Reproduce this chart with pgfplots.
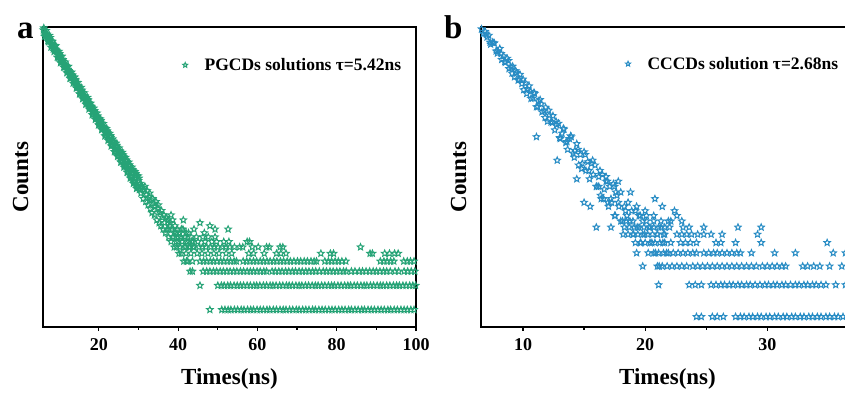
\documentclass[border=0pt]{standalone}
\usepackage{fontspec}
\setmainfont{Liberation Serif}
\usepackage{pgfplots}
\pgfplotsset{compat=1.18}
\definecolor{cgreen}{RGB}{38,163,118}
\definecolor{cblue}{RGB}{40,140,196}
\pgfdeclareplotmark{ostar}{%
  \pgfpathmoveto{\pgfpointpolar{90}{\pgfplotmarksize}}%
  \pgfpathlineto{\pgfpointpolar{126}{0.45\pgfplotmarksize}}%
  \pgfpathlineto{\pgfpointpolar{162}{\pgfplotmarksize}}%
  \pgfpathlineto{\pgfpointpolar{198}{0.45\pgfplotmarksize}}%
  \pgfpathlineto{\pgfpointpolar{234}{\pgfplotmarksize}}%
  \pgfpathlineto{\pgfpointpolar{270}{0.45\pgfplotmarksize}}%
  \pgfpathlineto{\pgfpointpolar{306}{\pgfplotmarksize}}%
  \pgfpathlineto{\pgfpointpolar{342}{0.45\pgfplotmarksize}}%
  \pgfpathlineto{\pgfpointpolar{18}{\pgfplotmarksize}}%
  \pgfpathlineto{\pgfpointpolar{54}{0.45\pgfplotmarksize}}%
  \pgfpathclose
  \pgfusepathqstroke
}
\pgfplotsset{
  every axis/.append style={
  scale only axis, width=373pt, height=300pt,
  ytick=\empty, minor y tick num=0,
  axis line style={line width=1.6pt},
  tick style={line width=1.2pt, black},
  tick align=outside, major tick length=4pt, minor tick length=2.5pt,
  xtick pos=left, minor x tick num=1,
  /pgf/number format/assume math mode=true,
  ticklabel style={font=\fontsize{18}{18}\selectfont\bfseries},
  xticklabel style={yshift=-4pt},
  label style={font=\fontsize{23}{23}\selectfont\bfseries},
  xlabel style={at={(axis description cs:0.5,-0.193)}, anchor=base},
  ylabel style={at={(axis description cs:-0.04,0.5)}, anchor=base},
  legend style={draw=none, fill=none, font=\fontsize{17.5}{17.5}\selectfont\bfseries, anchor=west,
    /tikz/every odd column/.append style={column sep=15pt}},
  legend image code/.code={\draw[#1] plot coordinates {(0pt,0pt)};},
  },
  star/.style={only marks, mark=ostar, mark size=3.4pt, mark options={line width=1pt, solid}},
}
\begin{document}
\begin{tikzpicture}
\begin{axis}[ymode=log, at={(43pt,65pt)}, anchor=south west,
  xlabel={Times(ns)}, ylabel={Counts},
  xmin=5.9, xmax=100, ymin=0.61, ymax=3250, xtick={20,40,60,80,100},
  legend style={at={(0.366,0.873)}}]
\addplot[cgreen, star, legend image post style={mark size=2.6pt}] coordinates {(6.0,2990)(6.2,2930)(6.4,2745)(6.6,2600)(6.8,2590)(7.0,2530)(7.2,2370)(7.4,2250)(7.6,2240)(7.8,2180)(8.0,2030)(8.2,1940)(8.4,1935)(8.6,1880)(8.8,1760)(9.0,1672)(9.2,1668)(9.4,1620)(9.6,1505)(9.8,1441)(10.0,1441)(10.2,1396)(10.4,1296)(10.6,1241)(10.8,1250)(11.0,1204)(11.2,1118)(11.4,1069)(11.6,1072)(11.8,1038)(12.0,962)(12.2,921)(12.4,934)(12.6,894)(12.8,826)(13.0,795)(13.2,808)(13.4,772)(13.6,711)(13.8,684)(14.0,695)(14.2,666)(14.4,612)(14.6,590)(14.8,603)(15.0,576)(15.2,524)(15.4,508)(15.6,519)(15.8,497)(16.0,452)(16.2,437)(16.4,447)(16.6,429)(16.8,389)(17.0,376)(17.2,391)(17.4,372)(17.6,334)(17.8,324)(18.0,338)(18.2,321)(18.4,287)(18.6,279)(18.8,291)(19.0,277)(19.2,246)(19.4,240)(19.6,254)(19.8,239)(20.0,212)(20.2,207)(20.4,219)(20.6,208)(20.8,181)(21.0,177)(21.2,190)(21.4,180)(21.6,158)(21.8,152)(22.0,164)(22.2,157)(22.4,133)(22.6,131)(22.8,141)(23.0,137)(23.2,117)(23.4,112)(23.6,124)(23.8,119)(24.0,99)(24.2,97)(24.4,107)(24.6,104)(24.8,86)(25.0,83)(25.2,93)(25.4,90)(25.6,74)(25.8,71)(26.0,81)(26.2,79)(26.4,63)(26.6,61)(26.8,72)(27.0,69)(27.2,55)(27.4,53)(27.6,62)(27.8,60)(28.0,46)(28.2,45)(28.4,54)(28.6,53)(28.8,40)(29.0,39)(29.2,47)(29.4,46)(29.6,35)(29.8,34)
(30.0,40)(30.2,31)(30.4,37)(30.6,28)(30.8,35)(31.0,33)(31.2,24)(31.4,31)(31.6,34)(31.8,22)(32.0,27)(32.2,30)(32.4,20)(32.6,25)(32.8,28)(33.0,18)(33.2,23)(33.4,16)(33.6,24)(33.8,21)(34.0,15)(34.2,19)(34.4,22)(34.6,13)(34.8,18)(35.0,20)(35.2,12)(35.4,16)(35.6,11)(35.8,17)(36.0,14)(36.2,10)(36.4,15)(36.6,12)(36.8,9)(37.0,14)(37.2,10)(37.4,13)(37.6,8)(37.8,11)(38.0,12)(38.2,7)(38.4,10)(38.6,13)(38.8,8)(39.0,6)(39.2,11)(39.4,9)(39.6,6)(39.8,10)(40.0,7)(40.2,5)(40.4,9)(40.6,8)(40.8,5)(41.0,7)(41.2,10)(41.4,4)(41.6,6)(41.8,8)(42.0,5)(42.2,7)(42.4,4)(42.6,9)(42.8,6)(43.0,3)(43.2,5)(43.4,7)(43.6,4)(43.8,6)
(6.1,3160)(6.5,2527)(6.9,2649)(7.3,2131)(7.7,2392)(8.1,1939)(8.5,1726)(8.9,1863)(9.3,1665)(9.7,1351)(10.1,1519)(10.5,1217)(10.9,1274)(11.3,1027)(11.7,1057)(12.1,1039)(12.5,848)(12.9,755)(13.3,824)(13.7,694)(14.1,724)(14.5,568)(14.9,596)(15.3,479)(15.7,534)(16.1,436)(16.5,452)(16.9,364)(17.3,405)(17.7,318)(18.1,333)(18.5,266)(18.9,296)(19.3,239)(19.7,254)(20.1,200)(20.5,224)(20.9,177)(21.3,183)(21.7,146)(22.1,166)(22.5,130)(22.9,145)(23.3,110)(23.7,122)(24.1,92)(24.5,110)(24.9,82)(25.3,94)(25.7,69)(26.1,84)(26.5,61)(26.9,72)(27.3,51)(27.7,63)(28.1,44)(28.5,55)(28.9,38)(29.3,49)(29.7,33)(30.1,43)
(6.3,2482)(6.7,2932)(7.1,2188)(7.5,2550)(7.9,1823)(8.3,2159)(8.7,1607)(9.1,1911)(9.5,1369)(9.9,1618)(10.3,1167)(10.7,1408)(11.1,1029)(11.5,1192)(11.9,877)(12.3,1055)(12.7,747)(13.1,894)(13.5,651)(13.9,777)(14.3,568)(14.7,664)(15.1,479)(15.5,577)(15.9,417)(16.3,494)(16.7,356)(17.1,433)(17.5,311)(17.9,367)(18.3,264)(18.7,319)(19.1,231)(19.5,277)(19.9,197)(20.3,235)(20.7,172)(21.1,205)(21.5,144)(21.9,178)(22.3,127)(22.7,155)(23.1,108)(23.5,132)(23.9,92)(24.3,117)(24.7,80)(25.1,102)(25.5,68)(25.9,90)(26.3,59)(26.7,78)(27.1,51)(27.5,68)(27.9,43)(28.3,59)(28.7,37)(29.1,52)(29.5,32)(29.9,46)};
\addlegendentry{PGCDs solutions τ=5.42ns}
\addplot[cgreen, star, forget plot] coordinates {(48.0,1)(51.0,1)(51.8,1)(52.6,1)(53.3,1)(54.2,1)(55.0,1)(55.9,1)(56.6,1)(57.5,1)(58.3,1)(59.0,1)(59.9,1)(60.7,1)(61.5,1)(62.4,1)(63.1,1)(64.0,1)(64.8,1)(65.7,1)(66.5,1)(67.2,1)(68.1,1)(68.9,1)(69.8,1)(70.5,1)(71.4,1)(72.2,1)(73.0,1)(73.9,1)(74.6,1)(75.5,1)(76.3,1)(77.1,1)(78.0,1)(78.8,1)(79.6,1)(80.5,1)(81.3,1)(82.1,1)(83.0,1)(83.7,1)(84.6,1)(85.4,1)(86.3,1)(87.0,1)(87.9,1)(88.7,1)(89.5,1)(90.4,1)(91.2,1)(92.0,1)(92.9,1)(93.6,1)(94.5,1)(95.3,1)(96.2,1)(97.0,1)(97.8,1)(98.7,1)(99.5,1)};
\addplot[cgreen, star, forget plot] coordinates {(45.5,2)(50.0,2)(50.9,2)(51.6,2)(52.5,2)(53.2,2)(54.1,2)(54.9,2)(55.7,2)(56.5,2)(57.4,2)(58.2,2)(59.1,2)(59.8,2)(60.6,2)(61.5,2)(62.3,2)(63.2,2)(63.9,2)(64.7,2)(65.6,2)(66.4,2)(67.3,2)(68.0,2)(68.8,2)(69.7,2)(70.5,2)(71.2,2)(72.1,2)(72.9,2)(73.8,2)(74.6,2)(75.3,2)(76.2,2)(77.0,2)(77.9,2)(78.7,2)(79.4,2)(80.3,2)(81.1,2)(82.0,2)(82.8,2)(83.5,2)(84.4,2)(85.2,2)(86.1,2)(86.9,2)(87.6,2)(88.5,2)(89.3,2)(90.2,2)(91.0,2)(91.7,2)(92.6,2)(93.4,2)(94.3,2)(95.1,2)(95.8,2)(96.7,2)(97.5,2)(98.4,2)(99.2,2)(99.9,2)};
\addplot[cgreen, star, forget plot] coordinates {(43.6,3)(46.3,3)(47.2,3)(48.0,3)(48.9,3)(49.7,3)(50.6,3)(51.4,3)(52.3,3)(53.1,3)(54.0,3)(54.8,3)(55.7,3)(56.5,3)(57.4,3)(58.2,3)(59.0,3)(59.9,3)(60.7,3)(61.6,3)(62.3,3)(63.7,3)(64.5,3)(65.4,3)(66.2,3)(67.1,3)(67.9,3)(68.8,3)(69.6,3)(70.5,3)(71.3,3)(72.2,3)(73.0,3)(73.9,3)(74.7,3)(75.6,3)(76.6,3)(77.4,3)(78.3,3)(79.1,3)(80.0,3)(80.8,3)(81.7,3)(82.4,3)(83.7,3)(84.6,3)(85.7,3)(86.5,3)(87.4,3)(88.3,3)(89.2,3)(90.0,3)(90.9,3)(91.8,3)(92.6,3)(93.5,3)(94.7,3)(95.6,3)(97.0,3)(97.9,3)(98.8,3)(99.7,3)};
\addplot[cgreen, star, forget plot] coordinates {(42.1,4)(45.5,4)(46.4,4)(47.2,4)(48.1,4)(48.9,4)(49.8,4)(50.7,4)(51.5,4)(52.4,4)(53.2,4)(54.1,4)(54.7,4)(56.4,4)(57.3,4)(58.1,4)(59.0,4)(59.8,4)(60.7,4)(61.5,4)(62.4,4)(63.2,4)(64.1,4)(64.9,4)(65.8,4)(66.6,4)(67.5,4)(68.3,4)(69.2,4)(70.1,4)(70.9,4)(71.8,4)(72.6,4)(73.5,4)(74.3,4)(74.9,4)(77.0,4)(77.9,4)(78.7,4)(79.6,4)(80.4,4)(81.3,4)(82.3,4)(91.0,4)(91.9,4)(92.7,4)(93.6,4)(94.4,4)(96.9,4)(97.8,4)(98.6,4)(99.5,4)};
\addplot[cgreen, star, forget plot] coordinates {(44.8,5)(46.0,5)(47.5,5)(49.0,5)(50.3,5)(52.1,5)(53.5,5)(57.8,5)(59.0,5)(61.7,5)(64.8,5)(65.9,5)(67.2,5)(76.0,5)(78.4,5)(79.2,5)(88.4,5)(89.0,5)(92.1,5)(93.3,5)(94.6,5)(95.5,5)
(40.4,6)(41.9,6)(43.0,6)(44.0,6)(45.2,6)(46.1,6)(47.0,6)(48.2,6)(49.1,6)(50.0,6)(51.2,6)(52.0,6)(53.0,6)(54.2,6)(55.5,6)(56.3,6)(58.7,6)(60.2,6)(62.3,6)(63.0,6)(65.7,6)(66.4,6)(86.0,6)
(39.5,7)(41.0,7)(42.7,7)(43.8,7)(45.0,7)(46.8,7)(48.5,7)(49.7,7)(51.5,7)(52.8,7)(57.4,7)(58.0,7)
(38.6,8)(40.0,8)(41.6,8)(43.3,8)(44.6,8)(46.2,8)(47.6,8)(49.3,8)
(37.6,10)(39.0,9)(40.8,10)(42.0,9)(44.0,10)(45.5,12)(46.6,9)(49.3,10)(52.6,10)(48.0,11)(36.9,14)(38.2,15)(41.3,13)};
\end{axis}
\begin{axis}[ymode=log, at={(481pt,65pt)}, anchor=south west,
  xlabel={Times(ns)}, ylabel={Counts},
  xmin=6.56, xmax=37.1, ymin=0.8, ymax=545, xtick={10,20,30},
  legend style={at={(0.379,0.877)}}]
\addplot[cblue, star, legend image post style={mark size=2.6pt}] coordinates {(6.60,522)(6.75,470)(6.90,494)(7.05,437)(7.20,454)(7.35,374)(7.50,390)(7.65,384)(7.80,323)(7.95,323)(8.10,341)(8.25,268)(8.40,290)(8.55,252)(8.70,275)(8.85,220)(9.00,229)(9.15,232)(9.30,184)(9.45,202)(9.60,171)(9.75,194)(9.90,159)(10.05,139)(10.20,161)(10.35,142)(10.50,151)(10.65,115)(10.80,116)(10.95,128)(11.10,96)(11.25,109)(11.40,112)(11.55,86)(11.70,88)(11.85,95)(12.00,70)(12.15,80)(12.30,69)(12.45,79)(12.60,58)(12.75,65)(12.90,67)(13.05,48)(13.20,54)(13.35,59)(13.50,44)(13.65,38)(13.80,48)(13.95,50)(14.10,35)(14.25,37)(14.40,43)(14.55,27)(14.70,34)(14.85,28)(15.00,36)(15.15,24)(15.30,29)(15.45,20)(15.60,28)(15.75,22)(15.90,27)(16.05,17)(16.20,21)(16.35,14)(16.50,22)(16.65,16)(16.80,21)(16.95,12)(17.10,17)(17.25,12)(17.40,18)(17.55,9)(17.70,14)(17.85,11)(18.00,15)(18.15,8)(18.30,11)(18.45,8)(18.60,12)(18.75,8)(18.90,10)(19.05,6)(19.20,10)(19.35,7)(19.50,9)(19.65,5)(19.80,8)(19.95,6)(20.10,9)(20.25,4)(20.40,7)(20.55,5)(20.70,8)(20.85,4)(21.00,6)(21.15,3)(21.30,7)(21.45,5)(21.60,6)(21.75,4)(21.90,8)
(7.0,464)(7.3,391)(7.6,385)(7.9,308)(8.2,305)(8.5,257)(8.8,262)(9.1,199)(9.4,210)(9.7,174)(10.0,175)(10.3,128)(10.6,134)(10.9,131)(11.2,96)(11.5,102)(11.8,76)(12.1,89)(12.4,68)(12.7,70)(13.0,49)(13.3,60)(13.6,45)(13.9,51)(14.2,32)(14.5,38)(14.8,25)(15.1,34)(15.4,24)(15.7,30)(16.0,17)(16.3,24)(16.6,13)(16.9,19)(17.2,13)(17.5,17)
(11.1,50)(12.8,30)(14.4,20)(17.8,19)(18.8,15)(20.8,13)};
\addlegendentry{CCCDs solution τ=2.68ns}
\addplot[cblue, star, forget plot] coordinates {(24.2,1)(24.6,1)(25.5,1)(25.9,1)(26.4,1)(27.4,1)(27.8,1)(28.1,1)(28.5,1)(28.8,1)(29.2,1)(29.5,1)(29.9,1)(30.2,1)(30.6,1)(30.9,1)(31.3,1)(31.6,1)(32.0,1)(32.3,1)(32.7,1)(33.0,1)(33.4,1)(33.7,1)(34.1,1)(34.4,1)(34.8,1)(35.1,1)(35.5,1)(35.8,1)(36.2,1)(36.6,1)(37.0,1)};
\addplot[cblue, star, forget plot] coordinates {(21.1,2)(23.6,2)(24.1,2)(24.6,2)(25.4,2)(25.8,2)(26.2,2)(26.5,2)(26.9,2)(27.2,2)(27.6,2)(27.9,2)(28.3,2)(28.6,2)(29.0,2)(29.4,2)(29.8,2)(30.1,2)(30.5,2)(30.8,2)(31.2,2)(31.5,2)(31.9,2)(32.3,2)(32.6,2)(33.0,2)(33.3,2)(33.7,2)(34.0,2)(34.4,2)(34.8,2)(35.6,2)(36.4,2)};
\addplot[cblue, star, forget plot] coordinates {(19.8,3)(21.0,3)(21.4,3)(21.8,3)(22.2,3)(22.6,3)(23.0,3)(23.4,3)(23.9,3)(24.3,3)(24.7,3)(25.1,3)(25.5,3)(25.9,3)(26.3,3)(26.7,3)(27.1,3)(27.5,3)(27.9,3)(28.3,3)(28.7,3)(29.1,3)(29.6,3)(30.0,3)(30.4,3)(30.8,3)(31.2,3)(31.5,3)(32.9,3)(33.3,3)(33.8,3)(34.3,3)(35.1,3)(36.1,3)};
\addplot[cblue, star, forget plot] coordinates {(19.3,4)(20.7,4)(21.1,4)(21.5,4)(21.9,4)(22.3,4)(22.7,4)(23.1,4)(23.5,4)(23.9,4)(24.2,4)(24.8,4)(25.2,4)(25.6,4)(25.9,4)(26.3,4)(26.7,4)(27.1,4)(27.5,4)(27.8,4)(28.7,4)(30.6,4)(32.3,4)(35.4,4)(36.4,4)};
\addplot[cblue, star, forget plot] coordinates {(19.2,5)(19.6,5)(20.0,5)(20.4,5)(20.8,5)(21.2,5)(21.6,5)(22.1,5)(22.9,5)(23.3,5)(23.7,5)(24.2,5)(25.8,5)(26.2,5)(27.4,5)(29.5,5)(34.9,5)
(18.2,6)(18.6,6)(19.0,6)(19.4,6)(19.8,6)(20.2,6)(20.6,6)(21.0,6)(21.5,6)(22.6,6)(23.0,6)(23.4,6)(23.8,6)(24.3,6)(24.8,6)(25.4,6)(26.3,6)(29.2,6)
(16.0,7)(17.2,7)(18.3,7)(18.7,7)(19.1,7)(19.5,7)(19.9,7)(20.3,7)(20.7,7)(21.1,7)(21.6,7)(22.0,7)(23.1,7)(23.6,7)(24.8,7)(27.6,7)(29.5,7)
(17.5,9)(18.0,8)(18.5,9)(19.0,8)(19.6,9)(20.1,8)(20.7,9)(21.3,8)(22.1,8)(22.6,9)(23.0,8)
(15.0,12)(15.5,11)(16.4,13)(17.0,11)(17.8,12)(18.4,10)(19.3,11)(20.0,10)(21.4,11)(22.4,10)(16.2,17)(16.8,19)(17.6,15)};
\end{axis}
\node[anchor=base west, font=\fontsize{33}{33}\selectfont\bfseries, inner sep=0pt] at (17pt,354pt) {a};
\node[anchor=base west, font=\fontsize{33}{33}\selectfont\bfseries, inner sep=0pt] at (444pt,354pt) {b};
\pgfresetboundingbox
\useasboundingbox (0pt,0pt) rectangle (845pt,392pt);
\end{tikzpicture}
\end{document}
